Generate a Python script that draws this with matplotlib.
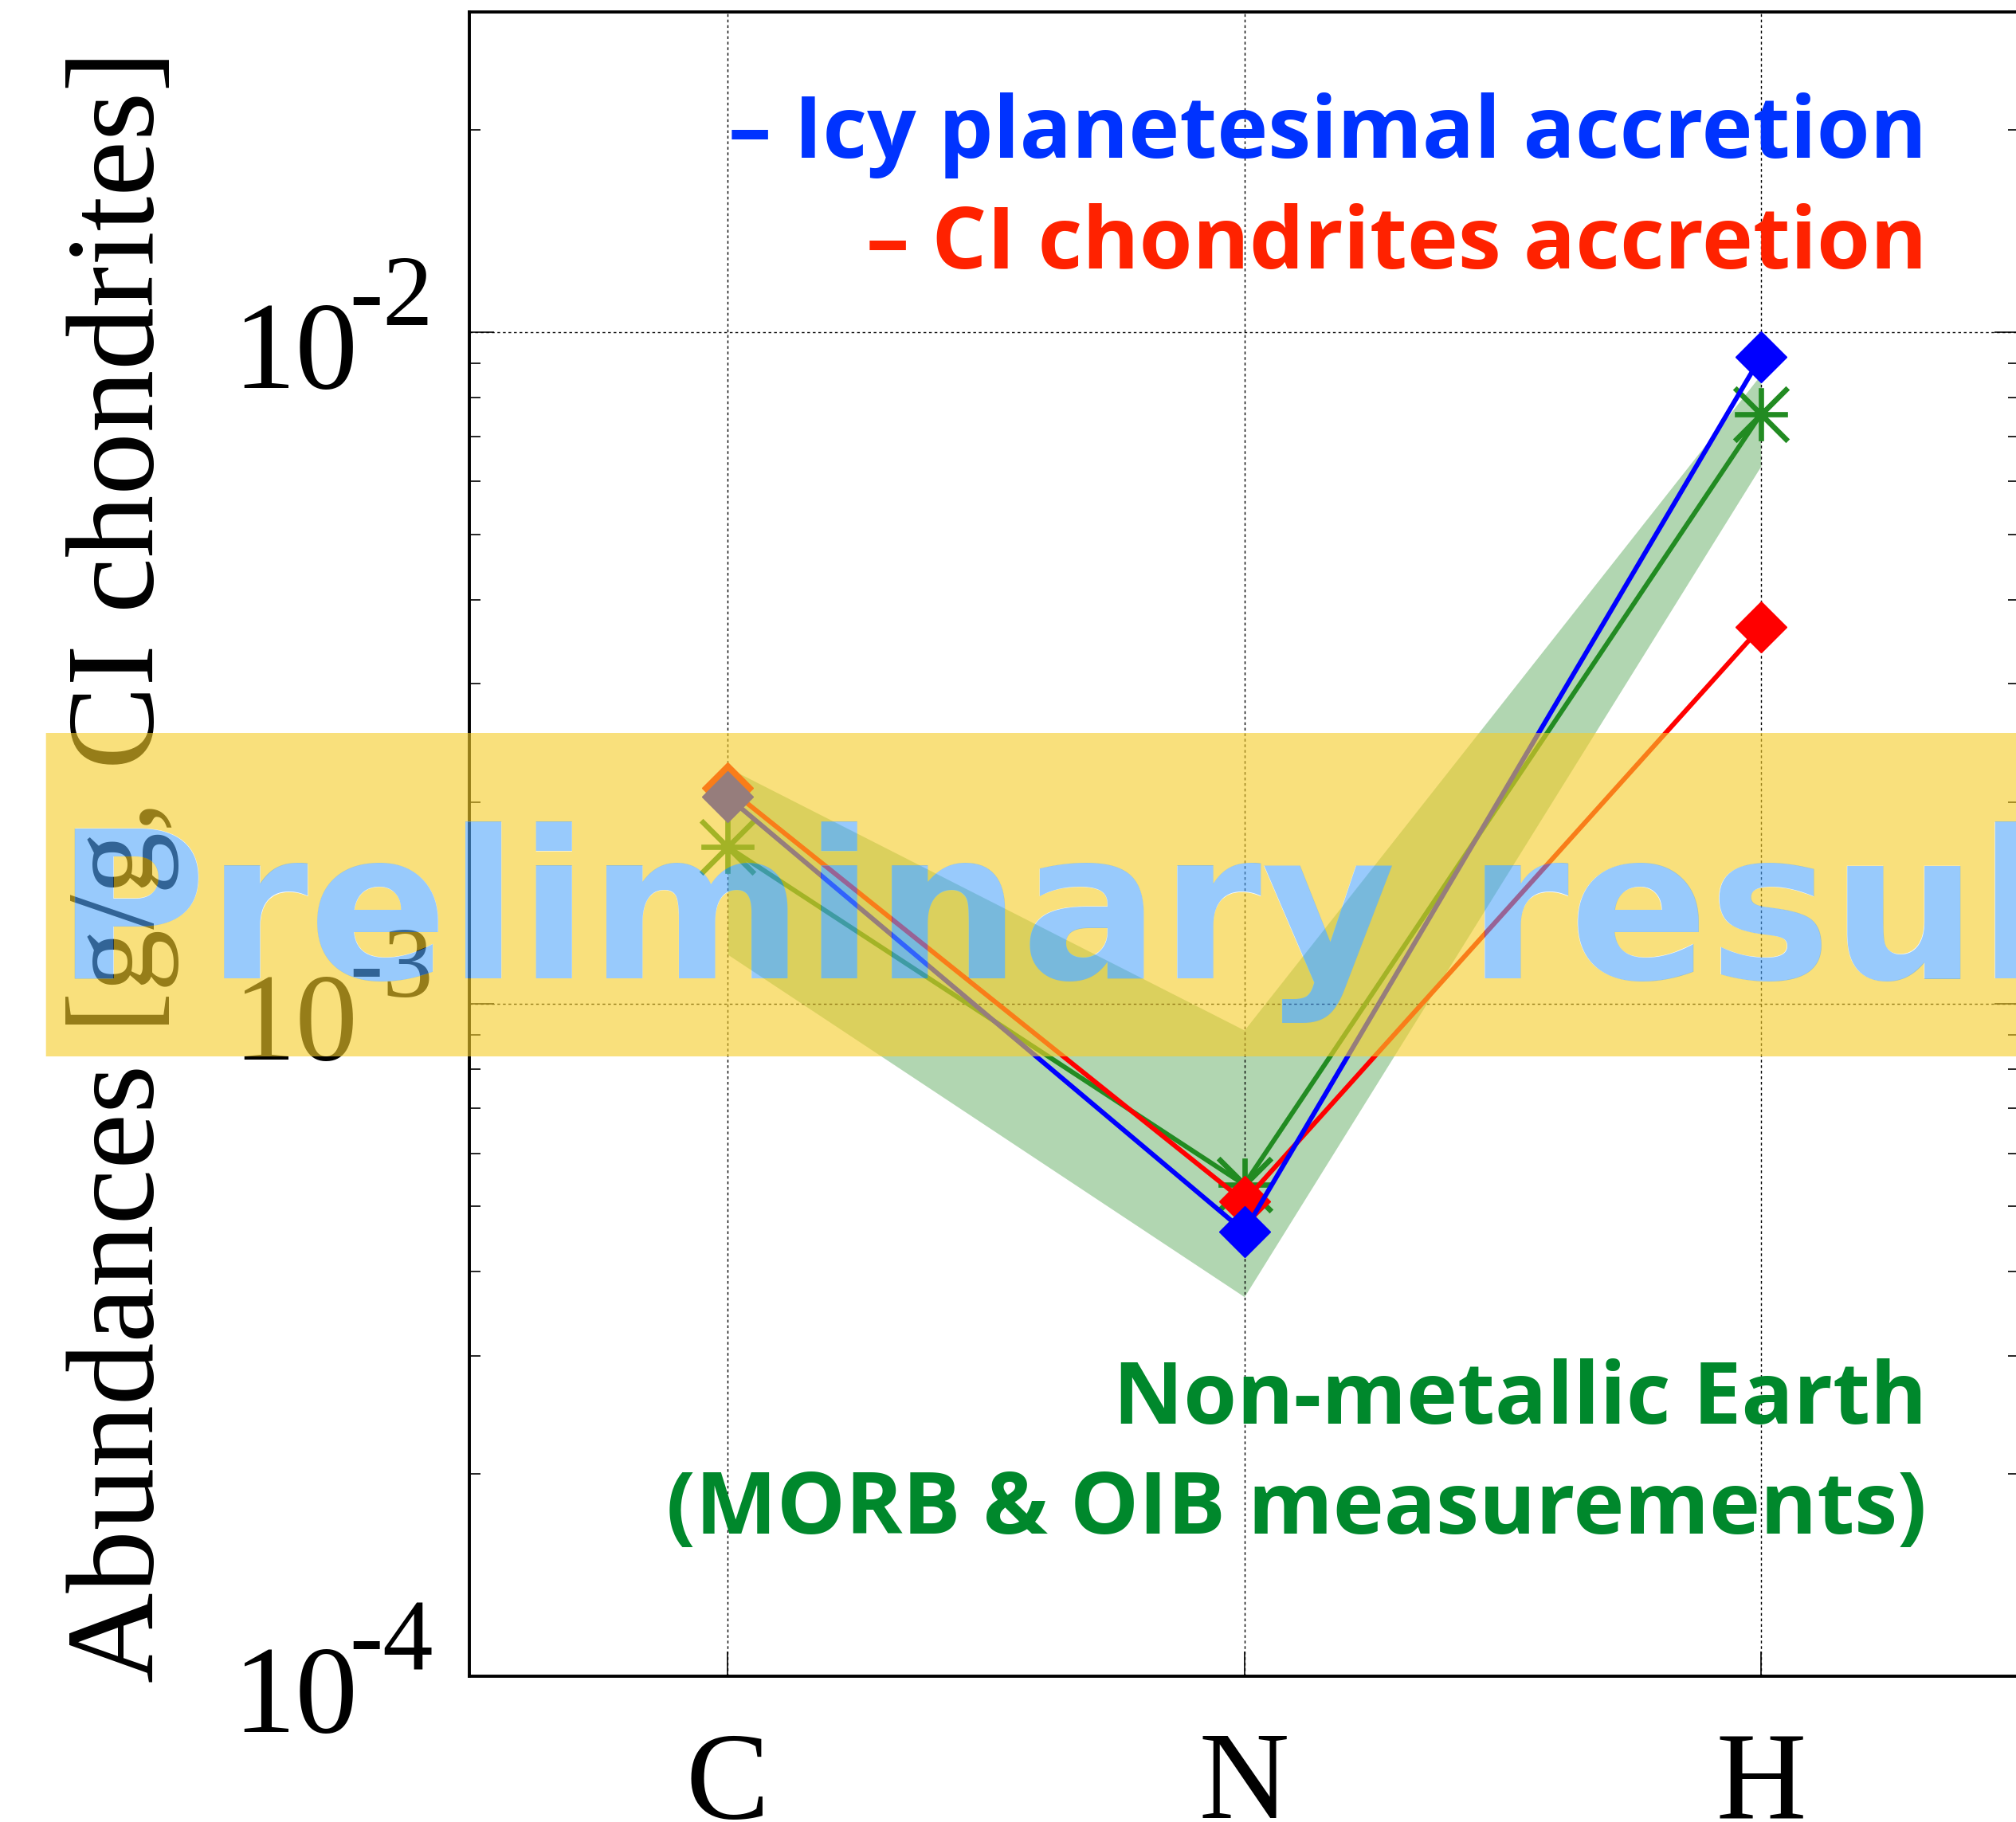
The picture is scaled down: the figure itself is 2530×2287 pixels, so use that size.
import numpy as np
import matplotlib
matplotlib.use('Agg')
import matplotlib.pyplot as plt
from matplotlib.path import Path
from matplotlib.patches import PathPatch
from matplotlib.textpath import TextPath
from matplotlib.font_manager import FontProperties
from matplotlib.transforms import Affine2D, IdentityTransform

# abundances relative to CI chondrites (g/g)
elements = ['C', 'N', 'H']
icy = [2.035e-3, 4.59e-4, 9.19e-3]        # icy planetesimal accretion
chondrite = [2.10e-3, 5.09e-4, 3.64e-3]   # CI chondrites accretion
earth = [1.715e-3, 5.39e-4, 7.55e-3]      # non-metallic Earth (MORB & OIB)
earth_lo = [1.186e-3, 3.67e-4, 6.32e-3]
earth_hi = [2.25e-3, 9.15e-4, 8.65e-3]
decades = [-2, -3, -4]

W, H, DPI = 2530, 2287, 100
px = 72.0 / DPI  # points per pixel

plt.rcParams['font.family'] = 'serif'
plt.rcParams['font.serif'] = ['Liberation Serif']

fig = plt.figure(figsize=(W / DPI, H / DPI), dpi=DPI)
ax = fig.add_axes([589 / W, (H - 2104) / H, (2534 - 589) / W, (2104 - 14.5) / H])
x = np.arange(1, len(elements) + 1)

# measured range as a shaded band
ax.fill_between(x, earth_lo, earth_hi, color='forestgreen', alpha=0.35, lw=0)

# 8-spoke asterisk marker
spokes = Path([(-1, 0), (1, 0), (0, -1), (0, 1), (-1, -1), (1, 1), (-1, 1), (1, -1)],
              [Path.MOVETO, Path.LINETO] * 4)
ax.plot(x, earth, color='forestgreen', lw=4.3, marker=spokes, ms=48, mew=4.8)
ax.plot(x, chondrite, color='red', lw=4.3, marker='D', ms=33, mew=1)
ax.plot(x, icy, color='blue', lw=4.3, marker='D', ms=33, mew=1)

ax.set_yscale('log')
ax.set_xlim(0.5, 3.5)
ax.set_ylim(1e-4, 3e-2)
ax.set_xticks(x, elements)
ax.tick_params(which='major', direction='in', length=22, width=1.2, labelsize=113, pad=49.7)
ax.tick_params(which='minor', direction='in', length=10.3, width=1.2)
ax.tick_params(axis='x', which='both', top=False)
ax.tick_params(axis='y', which='both', right=True, labelleft=False)
ax.grid(True, which='major', color='k', ls=(0, (2.5, 2.5)), lw=1.0)
for s in ax.spines.values():
    s.set_linewidth(2.8)

# decade labels written as 10 with a raised exponent
ytrans = ax.get_yaxis_transform()
for k in decades:
    ax.annotate('10', xy=(0, 10.0 ** k), xycoords=ytrans, xytext=(-140 * px, -70 * px),
                textcoords='offset points', ha='right', va='baseline', fontsize=113)
    ax.annotate('-%d' % -k, xy=(0, 10.0 ** k), xycoords=ytrans, xytext=(-151 * px, 9 * px),
                textcoords='offset points', ha='left', va='baseline', fontsize=91)

ax.set_ylabel('Abundances [g/g, CI chondrites]', fontsize=113)
ax.yaxis.set_label_coords(-0.1872, 0.4865)

# labels inside the plot
sans = dict(family='Open Sans', weight='bold', size=78, ha='right', va='baseline')
fig.text(2418 / W, 1 - 198 / H, '– Icy planetesimal accretion', color='#0033ff', **sans)
fig.text(2418 / W, 1 - 337 / H, '– CI chondrites accretion', color='#ff2200', **sans)
fig.text(2418 / W, 1 - 1787 / H, 'Non-metallic Earth', color='#00882c', **sans)
fig.text(2418 / W, 1 - 1925 / H, '(MORB & OIB measurements)', color='#00882c', **sans)

# watermark: translucent banner with the lettering knocked out of it
wm_text = 'Preliminary results'
wm_fp = FontProperties(family='DejaVu Sans', weight='bold', size=186)
wm_x, wm_y = 70.5, H - 1228
glyphs = TextPath((0, 0), wm_text, prop=wm_fp).transformed(
    Affine2D().scale(DPI / 72).translate(wm_x, wm_y))
bx0, bx1, by0, by1 = 57.7, W + 50, H - 1326, H - 920
banner = Path([(bx0, by0), (bx1, by0), (bx1, by1), (bx0, by1), (bx0, by0)],
              [Path.MOVETO, Path.LINETO, Path.LINETO, Path.LINETO, Path.CLOSEPOLY])
fig.add_artist(PathPatch(Path.make_compound_path(banner, glyphs), transform=IdentityTransform(),
                         facecolor=(246 / 255, 205 / 255, 41 / 255), alpha=0.61, edgecolor='none'))
fig.text(wm_x / W, wm_y / H, wm_text, fontproperties=wm_fp, color='#53a7fa', alpha=0.6,
         ha='left', va='baseline')

fig.savefig('out.png', dpi=DPI)
